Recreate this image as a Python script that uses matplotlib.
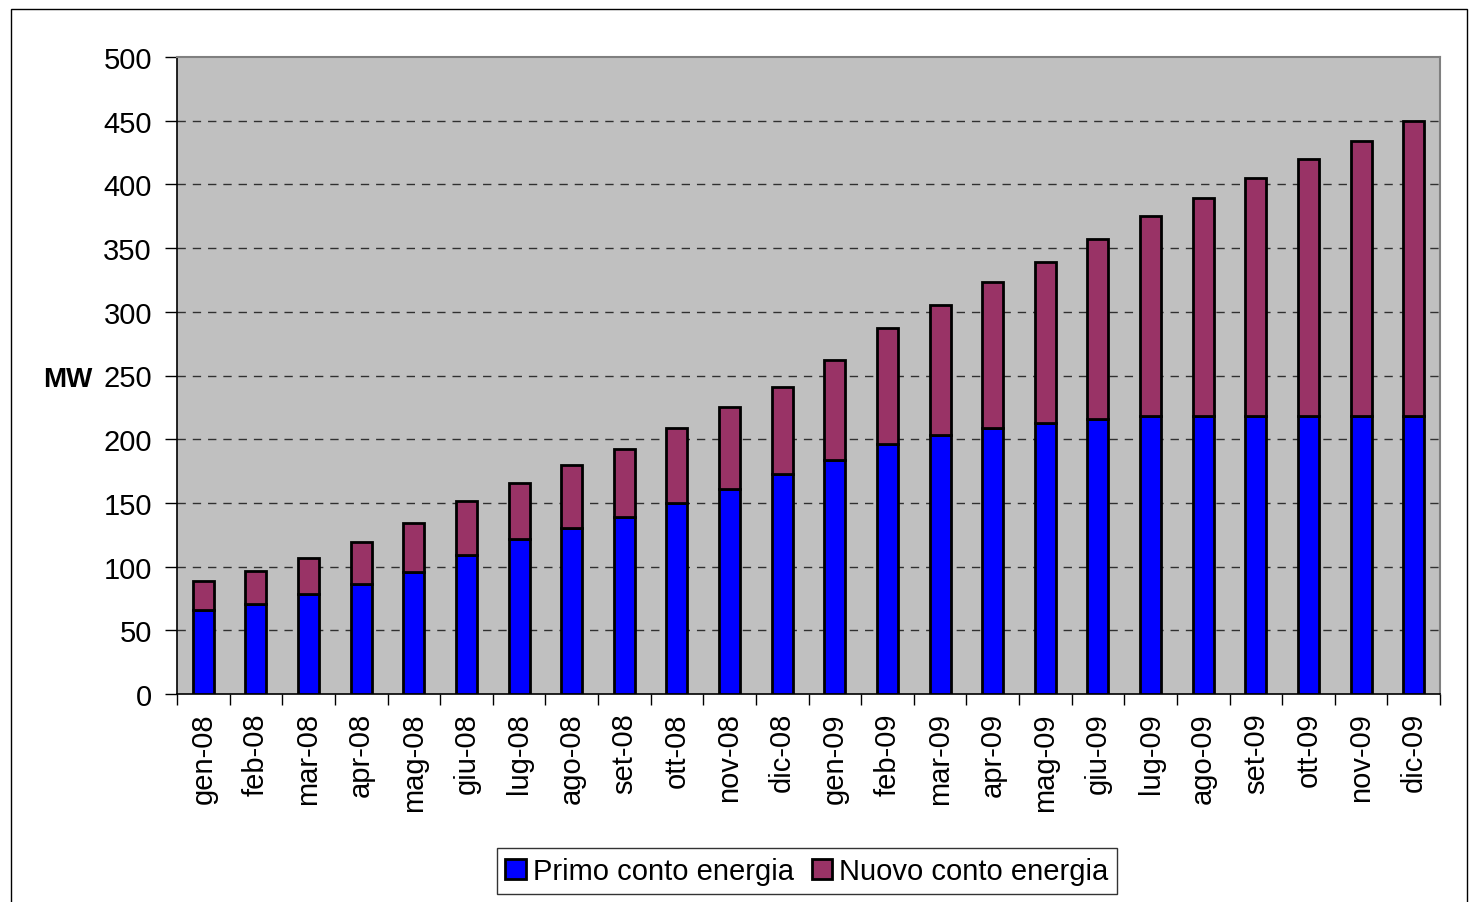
import matplotlib.pyplot as plt
from matplotlib.patches import Rectangle
import numpy as np

plt.rcParams['font.family'] = ['Liberation Sans', 'DejaVu Sans']

mesi = ['gen-08', 'feb-08', 'mar-08', 'apr-08', 'mag-08', 'giu-08', 'lug-08', 'ago-08',
        'set-08', 'ott-08', 'nov-08', 'dic-08', 'gen-09', 'feb-09', 'mar-09', 'apr-09',
        'mag-09', 'giu-09', 'lug-09', 'ago-09', 'set-09', 'ott-09', 'nov-09', 'dic-09']
primo = [66, 71, 78.5, 86, 96, 109, 121.5, 130, 139, 150, 161, 173,
         184, 196, 203, 208.5, 212.5, 216, 218, 218, 218, 218, 218, 218]
totale = [89, 96.5, 107, 119.5, 134, 151.5, 166, 180, 192.5, 209, 225, 241,
          262, 287, 305, 323.5, 339, 357, 375, 389, 405, 420, 434, 450]
nuovo = [t - p for t, p in zip(totale, primo)]
y_ticks = [0, 50, 100, 150, 200, 250, 300, 350, 400, 450, 500]

fig = plt.figure(figsize=(14.7, 9.03), dpi=100)
ax = fig.add_axes([177/1470, 1 - 695/903, (1440-177)/1470, (695-58)/903])
ax.set_facecolor('#C0C0C0')

x = np.arange(len(mesi))
ax.bar(x, primo, width=0.4, color='#0000FF', edgecolor='black', linewidth=2,
       label='Primo conto energia', zorder=3)
ax.bar(x, nuovo, width=0.4, bottom=primo, color='#993366', edgecolor='black', linewidth=2,
       label='Nuovo conto energia', zorder=3)

ax.set_xlim(-0.5, len(mesi) - 0.5)
ax.set_ylim(0, 500)
ax.set_yticks(y_ticks)
ax.set_yticklabels([str(v) for v in y_ticks], fontsize=21)
for v in y_ticks[1:-1]:
    ax.axhline(v, color='black', linestyle=(0, (6, 5)), linewidth=1, alpha=0.75, zorder=1)

ax.set_xticks(x)
ax.set_xticklabels(mesi, rotation=90, fontsize=21)
ax.tick_params(axis='x', length=0, pad=13)
ax.set_xticks(np.arange(len(mesi) + 1) - 0.5, minor=True)
ax.tick_params(axis='x', which='minor', length=8, width=1, color='black')
ax.tick_params(axis='y', length=9, width=1, pad=9)

for s in ['top', 'right']:
    ax.spines[s].set_color('#808080')
    ax.spines[s].set_linewidth(1.5)
ax.spines['left'].set_linewidth(1.2)
ax.spines['bottom'].set_linewidth(1.2)

fig.text(68/1470, 1 - 380/903, 'MW', fontsize=20, fontweight='bold', ha='center', va='center')

leg = fig.legend(loc='center', bbox_to_anchor=(807/1470, 1 - 872/903), ncol=2, fontsize=21,
                 frameon=True, fancybox=False, edgecolor='black', handlelength=0.7,
                 handleheight=0.7, handletextpad=0.25, columnspacing=0.6,
                 borderpad=0.3)
leg.get_frame().set_linewidth(1)

fig.patches.append(Rectangle((11/1470, -0.1), (1467-11)/1470, 1.1 - 10/903,
                             transform=fig.transFigure, fill=False,
                             edgecolor='black', linewidth=1))

fig.savefig('out.png', dpi=100)
